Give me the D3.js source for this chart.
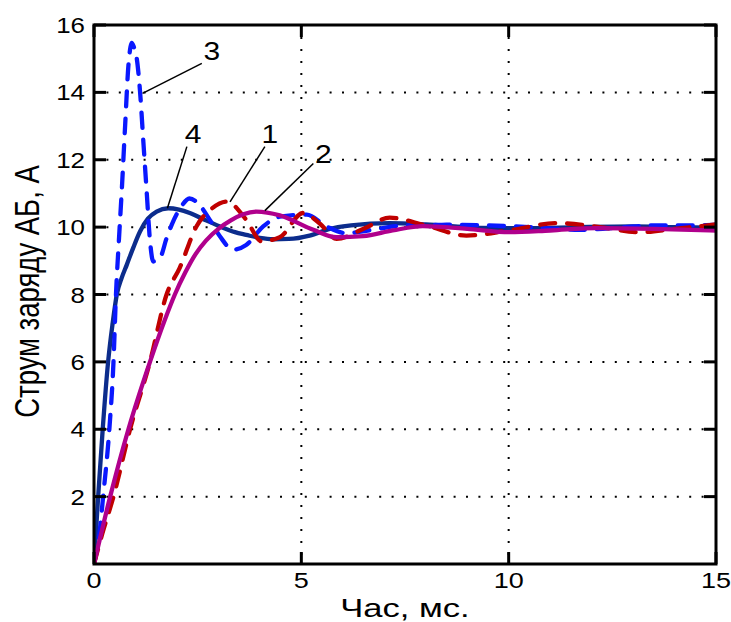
<!DOCTYPE html>
<html lang="uk">
<head>
<meta charset="UTF-8">
<title>Струм заряду АБ</title>
<style>
  body { margin: 0; background: #fff; }
  svg { display: block; }
  text { font-family: "Liberation Sans", Arial, sans-serif; fill: #000; }
</style>
</head>
<body>
<svg id="chart" width="731" height="622"></svg>
<script src="https://d3js.org/d3.v7.min.js"></script>
<script>
  // axis ticks
  const xTicks = [0, 5, 10, 15];
  const yTicks = [2, 4, 6, 8, 10, 12, 14, 16];
  const xGrid = [5, 10];
  const yGrid = [2, 4, 6, 8, 10, 12, 14];

  // curve 1 - red dashed
  const t1 = [0, 0.2, 0.47, 0.87, 1.35, 1.75, 2.07, 2.47, 2.85, 3.2, 3.67, 4.04, 4.48, 5.04, 5.45, 5.85, 6.5, 7.13, 8.0, 8.98, 10.0, 11.15, 12.2, 13.16, 14.0, 15];
  const i1 = [0, 0.9, 2, 4, 6, 8, 8.8, 10.02, 10.56, 10.76, 10.22, 9.58, 9.7, 10.42, 10.1, 9.65, 9.95, 10.28, 10.05, 9.75, 9.9, 10.12, 10.0, 9.85, 9.95, 10.08];

  // curve 2 - magenta solid
  const t2 = [0, 0.39, 0.83, 1.35, 1.7, 1.95, 2.2, 2.45, 2.7, 3.0, 3.3, 3.6, 3.92, 4.48, 5.29, 5.85, 6.49, 7.2, 7.93, 9.0, 10.02, 11.0, 12.11, 13.5, 15];
  const i2 = [0, 2, 4, 6, 7.22, 8.0, 8.65, 9.2, 9.6, 9.95, 10.2, 10.38, 10.46, 10.35, 9.92, 9.7, 9.73, 9.9, 10.03, 9.95, 9.85, 9.9, 9.97, 9.95, 9.9];

  // curve 3 - blue dashed
  const t3 = [0, 0.14, 0.22, 0.37, 0.47, 0.53, 0.6, 0.67, 0.75, 0.83, 0.88, 0.91, 0.96, 1.03, 1.11, 1.19, 1.27, 1.35, 1.43, 1.59, 1.75, 1.91, 2.1, 2.3, 2.55, 2.8, 3.04, 3.36, 3.67, 4.08, 4.48, 5.13, 5.61, 6.09, 6.6, 7.5, 8.5, 9.5, 10.5, 11.7, 12.5, 13.5, 14.5, 15];
  const i3 = [0, 1, 2, 4, 6, 8, 9.6, 11.1, 13, 14.8, 15.35, 15.47, 15.35, 15.02, 14.03, 12.54, 11.06, 9.6, 8.98, 9.08, 9.67, 10.17, 10.6, 10.85, 10.65, 10.2, 9.72, 9.33, 9.47, 10.02, 10.31, 10.37, 10.02, 9.82, 9.9, 10.05, 10.07, 10.05, 10.0, 9.92, 9.97, 10.05, 10.05, 10.07];

  // curve 4 - navy solid
  const t4 = [0, 0.1, 0.21, 0.34, 0.45, 0.55, 0.67, 0.79, 0.95, 1.11, 1.3, 1.51, 1.79, 2.05, 2.31, 2.7, 3.04, 3.4, 3.67, 4.0, 4.32, 4.7, 5.2, 5.69, 6.2, 7.13, 8.0, 9.3, 10.5, 11.7, 13.0, 14.0, 15];
  const i4 = [0, 2, 4, 6, 7.15, 8.0, 8.5, 8.88, 9.4, 9.87, 10.25, 10.46, 10.56, 10.52, 10.42, 10.2, 10.02, 9.85, 9.77, 9.68, 9.64, 9.65, 9.75, 9.95, 10.05, 10.12, 10.08, 9.98, 9.97, 10.0, 10.02, 10.0, 9.98];

  // curve number labels and their leader lines, in data units
  const labelNames = ['3', '4', '1', '2'];
  const labelPos = [[2.84, 15.24], [2.39, 12.75], [4.24, 12.75], [5.53, 12.17]];
  const leaderFrom = [[2.60, 14.86], [2.24, 12.39], [4.12, 12.39], [5.29, 11.89]];
  const leaderTo = [[1.17, 13.97], [1.77, 10.56], [3.28, 10.75], [4.12, 10.49]];

  const svg = d3.select('#chart');
  const margin = { left: 94, top: 25, right: 15, bottom: 58 };
  const W = 731, H = 622;
  const iw = W - margin.left - margin.right;
  const ih = H - margin.top - margin.bottom;

  const x = d3.scaleLinear().domain([0, 15]).range([margin.left, margin.left + iw]);
  const y = d3.scaleLinear().domain([0, 16]).range([margin.top + ih, margin.top]);

  // dotted grid
  svg.append('g')
    .selectAll('line')
    .data(xGrid)
    .join('line')
    .attr('x1', d => x(d)).attr('x2', d => x(d))
    .attr('y1', y(16)).attr('y2', y(0))
    .attr('stroke', '#000')
    .attr('stroke-width', 2)
    .attr('stroke-dasharray', '2,10');

  svg.append('g')
    .selectAll('line')
    .data(yGrid)
    .join('line')
    .attr('x1', x(0)).attr('x2', x(15))
    .attr('y1', d => y(d)).attr('y2', d => y(d))
    .attr('stroke', '#000')
    .attr('stroke-width', 2)
    .attr('stroke-dasharray', '2,10.4');

  // curves
  svg.append('clipPath').attr('id', 'clip')
    .append('rect')
    .attr('x', margin.left).attr('y', margin.top)
    .attr('width', iw).attr('height', ih);

  const series = [
    { t: t4, v: i4, color: '#0c2c8c', dash: null },
    { t: t3, v: i3, color: '#0a18ff', dash: '15,12' },
    { t: t1, v: i1, color: '#c00000', dash: '15,12' },
    { t: t2, v: i2, color: '#b0008c', dash: null },
  ];

  const line = d3.line()
    .x(d => x(d[0]))
    .y(d => y(d[1]))
    .curve(d3.curveMonotoneX);

  svg.append('g')
    .attr('clip-path', 'url(#clip)')
    .selectAll('path')
    .data(series)
    .join('path')
    .attr('d', s => line(s.t.map((t, k) => [t, s.v[k]])))
    .attr('fill', 'none')
    .attr('stroke', s => s.color)
    .attr('stroke-width', 4.3)
    .attr('stroke-linecap', 'round')
    .attr('stroke-linejoin', 'round')
    .attr('stroke-dasharray', s => s.dash);

  // ticks on all four sides, pointing inward
  const tickLen = 12;
  const ticks = svg.append('g').attr('stroke', '#000').attr('stroke-width', 3);
  xTicks.forEach(d => {
    ticks.append('line').attr('x1', x(d)).attr('x2', x(d)).attr('y1', y(0)).attr('y2', y(0) - tickLen);
    ticks.append('line').attr('x1', x(d)).attr('x2', x(d)).attr('y1', y(16)).attr('y2', y(16) + tickLen);
  });
  yTicks.forEach(d => {
    ticks.append('line').attr('x1', x(0)).attr('x2', x(0) + tickLen).attr('y1', y(d)).attr('y2', y(d));
    ticks.append('line').attr('x1', x(15)).attr('x2', x(15) - tickLen).attr('y1', y(d)).attr('y2', y(d));
  });

  // box
  svg.append('rect')
    .attr('x', margin.left).attr('y', margin.top)
    .attr('width', iw).attr('height', ih)
    .attr('fill', 'none')
    .attr('stroke', '#000')
    .attr('stroke-width', 3);

  // tick labels (the source text is a bit wider than plain Arial)
  svg.append('g')
    .selectAll('text')
    .data(xTicks)
    .join('text')
    .attr('transform', d => `translate(${x(d)},${y(0) + 24}) scale(1.2,1)`)
    .attr('text-anchor', 'middle')
    .attr('font-size', 22.5)
    .text(d => d);

  svg.append('g')
    .selectAll('text')
    .data(yTicks)
    .join('text')
    .attr('transform', d => `translate(${x(0) - 9},${y(d) + 8}) scale(1.15,1)`)
    .attr('text-anchor', 'end')
    .attr('font-size', 22.5)
    .text(d => d);

  // axis titles
  svg.append('text')
    .attr('transform', `translate(${(x(0) + x(15)) / 2},${H - 5}) scale(1.33,1)`)
    .attr('text-anchor', 'middle')
    .attr('font-size', 26)
    .text('Час, мс.');

  svg.append('text')
    .attr('transform', `translate(39,${(y(0) + y(16)) / 2 - 3}) scale(1.3,1) rotate(-90)`)
    .attr('text-anchor', 'middle')
    .attr('font-size', 27.5)
    .text('Струм заряду АБ, А');

  // curve number labels with leader lines
  const ann = svg.append('g');
  labelNames.forEach((name, k) => {
    ann.append('line')
      .attr('x1', x(leaderFrom[k][0])).attr('y1', y(leaderFrom[k][1]))
      .attr('x2', x(leaderTo[k][0])).attr('y2', y(leaderTo[k][1]))
      .attr('stroke', '#000')
      .attr('stroke-width', 1.5);
    ann.append('text')
      .attr('transform', `translate(${x(labelPos[k][0])},${y(labelPos[k][1]) + 9}) scale(1.2,1)`)
      .attr('text-anchor', 'middle')
      .attr('font-size', 25)
      .text(name);
  });
</script>
</body>
</html>
